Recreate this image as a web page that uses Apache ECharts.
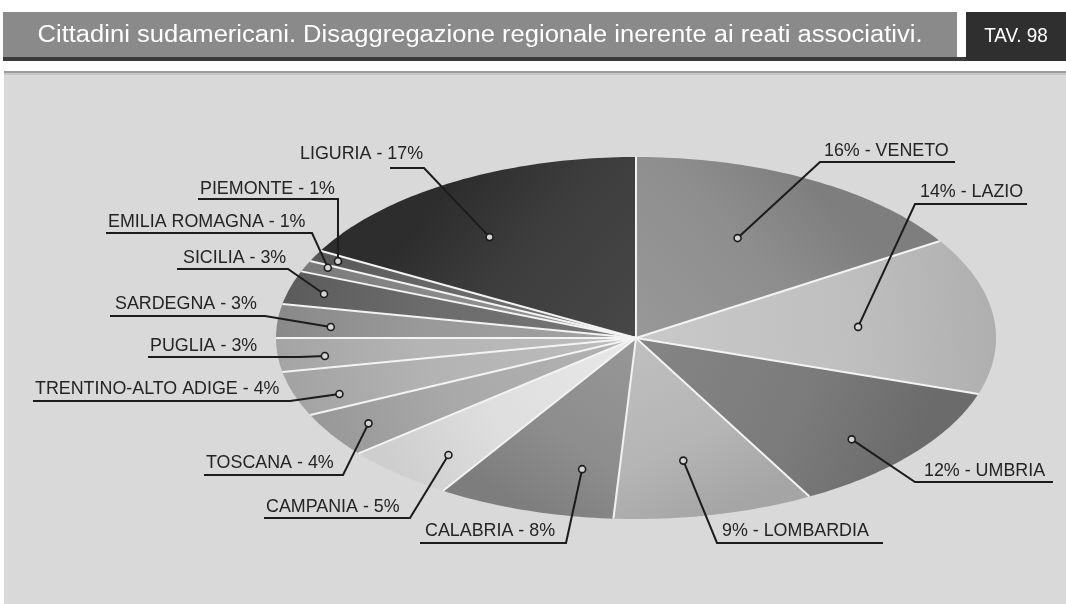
<!DOCTYPE html>
<html>
<head>
<meta charset="utf-8">
<script src="https://cdn.jsdelivr.net/npm/echarts@6/dist/echarts.min.js"></script>
<style>
  html, body { margin: 0; padding: 0; background: #fff; }
  #chart { width: 1066px; height: 604px; }
</style>
</head>
<body>
<div id="chart"></div>
<script>
// data, clockwise from 12 o'clock
const regions = ['VENETO', 'LAZIO', 'UMBRIA', 'LOMBARDIA', 'CALABRIA', 'CAMPANIA', 'TOSCANA',
  'TRENTINO-ALTO ADIGE', 'PUGLIA', 'SARDEGNA', 'SICILIA', 'EMILIA ROMAGNA', 'PIEMONTE', 'LIGURIA'];
const shares = [16, 14, 12, 9, 8, 5, 4, 4, 3, 3, 3, 1, 1, 17];

const titleText = 'Cittadini sudamericani. Disaggregazione regionale inerente ai reati associativi.';
const tableTag = 'TAV. 98';

// styles
const sliceShades = ['#8e8e8e', '#bfbfbf', '#7b7b7b', '#b5b5b5', '#8d8d8d', '#dedede', '#a9a9a9',
  '#b3b3b3', '#b4b4b4', '#999999', '#6c6c6c', '#8a8a8a', '#686868', '#3d3d3d'];

// label layout: text x, text y, underline x1, x2, y, dot position along slice (0..1), dot radius (0..1)
const labelSpots = [
  [824, 151, 820, 955, 162, 0.47, 0.62],
  [920, 192, 915, 1027, 204, 0.53, 0.62],
  [924, 471, 915, 1053, 482, 0.58, 0.82],
  [722, 531, 717, 883, 543, 0.55, 0.69],
  [425, 531, 420, 566, 543, 0.28, 0.74],
  [266, 507, 264, 410, 518, 0.36, 0.83],
  [206, 463, 204, 343, 475, 0.50, 0.88],
  [35, 389, 33, 290, 401, 0.32, 0.88],
  [150, 346, 148, 300, 357, 0.39, 0.87],
  [115, 304, 110, 265, 316, 0.38, 0.85],
  [183, 258, 177, 288, 269, 0.45, 0.90],
  [108, 222, 106, 312, 233, 0.78, 0.94],
  [200, 189, 198, 338, 199, 0.53, 0.93],
  [300, 154, 390, 424, 168, 0.41, 0.69]
];

const PIE = { cx: 636, cy: 338, rx: 360, ry: 181 };
const FONT = '"Liberation Sans", Arial, sans-serif';

const total = shares.reduce((s, v) => s + v, 0);
const sliceStart = [];
const sliceEnd = [];
let run = 0;
shares.forEach((v) => {
  sliceStart.push(90 - (run / total) * 360);
  run += v;
  sliceEnd.push(90 - (run / total) * 360);
});

function ellipsePoint(deg, f) {
  const a = (deg * Math.PI) / 180;
  return [PIE.cx + PIE.rx * f * Math.cos(a), PIE.cy - PIE.ry * f * Math.sin(a)];
}

function shade(hex, d) {
  const n = Math.max(0, Math.min(255, parseInt(hex.slice(1, 3), 16) + d));
  const h = n.toString(16).padStart(2, '0');
  return '#' + h + h + h;
}

function renderSlice(params) {
  const i = params.dataIndex;
  const a0 = sliceStart[i];
  const a1 = sliceEnd[i];
  const steps = Math.max(2, Math.ceil(Math.abs(a0 - a1)));
  const pts = [[PIE.cx, PIE.cy]];
  for (let k = 0; k <= steps; k++) pts.push(ellipsePoint(a0 + ((a1 - a0) * k) / steps, 1));
  const outer = ellipsePoint((a0 + a1) / 2, 1);
  const edge = ellipsePoint(a0, 1);
  const base = sliceShades[i];
  return {
    type: 'group',
    children: [
      {
        type: 'polygon',
        shape: { points: pts },
        style: {
          fill: new echarts.graphic.LinearGradient(PIE.cx, PIE.cy, outer[0], outer[1], [
            { offset: 0, color: shade(base, 10) },
            { offset: 0.6, color: base },
            { offset: 1, color: shade(base, -16) }
          ], true)
        }
      },
      {
        type: 'line',
        z2: 5,
        shape: { x1: PIE.cx, y1: PIE.cy, x2: edge[0], y2: edge[1] },
        style: { stroke: '#f3f3f3', lineWidth: 2 }
      }
    ]
  };
}

function renderLabel(params) {
  const i = params.dataIndex;
  const [tx, ty, u1, u2, uy, t, f] = labelSpots[i];
  const dot = ellipsePoint(sliceStart[i] + (sliceEnd[i] - sliceStart[i]) * t, f);
  const rightSide = dot[0] > PIE.cx;
  const elbowX = rightSide ? u1 : u2;
  const farX = rightSide ? u2 : u1;
  const text = rightSide
    ? shares[i] + '% - ' + regions[i]
    : regions[i] + ' - ' + shares[i] + '%';
  return {
    type: 'group',
    children: [
      {
        type: 'polyline',
        shape: { points: [dot, [elbowX, uy], [farX, uy]] },
        style: { stroke: '#1c1c1c', lineWidth: 2, fill: 'none' }
      },
      {
        type: 'circle',
        shape: { cx: dot[0], cy: dot[1], r: 3.5 },
        style: { fill: '#d4d4d4', stroke: '#1c1c1c', lineWidth: 1.6 }
      },
      {
        type: 'text',
        x: tx,
        y: ty,
        scaleX: 0.94,
        style: { text: text, fill: '#242424', font: '19px ' + FONT, verticalAlign: 'middle', align: 'left' }
      }
    ]
  };
}

// condense the title to the width it takes in the reference
const ctx = document.createElement('canvas').getContext('2d');
ctx.font = '23px ' + FONT;
const titleScale = 885 / ctx.measureText(titleText).width;

const chart = echarts.init(document.getElementById('chart'));

chart.setOption({
  backgroundColor: '#ffffff',
  animation: false,
  graphic: [
    { type: 'rect', z: 0, shape: { x: 4, y: 71, width: 1062, height: 533 }, style: { fill: '#d9d9d9' } },
    { type: 'rect', z: 0, shape: { x: 4, y: 71, width: 1062, height: 2 }, style: { fill: '#9c9c9c' } },
    { type: 'rect', z: 0, shape: { x: 4, y: 73, width: 1062, height: 2 }, style: { fill: '#c6c6c6' } },
    { type: 'rect', z: 0, shape: { x: 3, y: 12, width: 954, height: 46 }, style: { fill: '#8a8a8a' } },
    { type: 'rect', z: 0, shape: { x: 3, y: 57, width: 1063, height: 4 }, style: { fill: '#3a3a3a' } },
    { type: 'rect', z: 0, shape: { x: 966, y: 12, width: 100, height: 49 }, style: { fill: '#2f2f2f' } },
    {
      type: 'text', z: 1, x: 480, y: 36, scaleX: titleScale,
      style: { text: titleText, fill: '#ffffff', font: '23px ' + FONT, align: 'center', verticalAlign: 'middle' }
    },
    {
      type: 'text', z: 1, x: 1016, y: 36, scaleX: 0.9,
      style: { text: tableTag, fill: '#ffffff', font: '21px ' + FONT, align: 'center', verticalAlign: 'middle' }
    }
  ],
  series: [
    {
      type: 'custom',
      name: 'slices',
      coordinateSystem: 'none',
      silent: true,
      z: 2,
      renderItem: renderSlice,
      data: shares.map((v, i) => ({ name: regions[i], value: v }))
    },
    {
      type: 'custom',
      name: 'labels',
      coordinateSystem: 'none',
      silent: true,
      z: 3,
      renderItem: renderLabel,
      data: shares.map((v, i) => ({ name: regions[i], value: v }))
    }
  ]
});
</script>
</body>
</html>
